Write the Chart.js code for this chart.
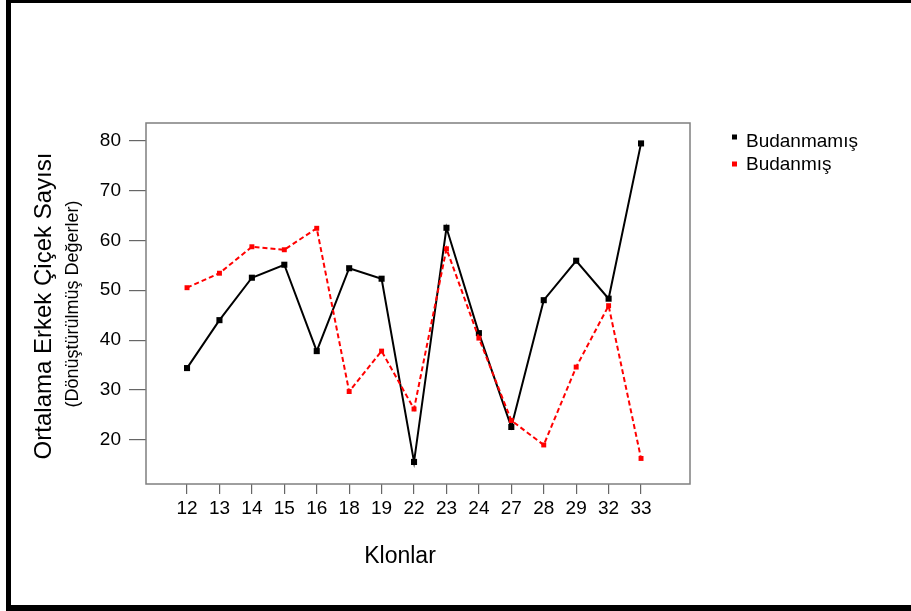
<!DOCTYPE html>
<html>
<head>
<meta charset="utf-8">
<script src="https://cdn.jsdelivr.net/npm/chart.js@4"></script>
<style>
  html, body { margin: 0; padding: 0; background: #fff; overflow: hidden; }
  #wrap { position: relative; width: 911px; height: 611px; }
  #frame {
    position: absolute; left: 6px; top: 0; width: 1000px; height: 602px;
    border-left: 5px solid #000; border-top: 3px solid #000; border-bottom: 6px solid #000;
    pointer-events: none;
  }
  canvas { position: absolute; left: 0; top: 0; }
</style>
</head>
<body>
<div id="wrap">
  <canvas id="chart" width="911" height="611"></canvas>
  <div id="frame"></div>
</div>
<script>
// Chart data
const clones = ['12', '13', '14', '15', '16', '18', '19', '22', '23', '24', '27', '28', '29', '32', '33'];
const budanmamis = [34.4, 44.0, 52.5, 55.1, 37.8, 54.4, 52.3, 15.6, 62.5, 41.4, 22.6, 48.0, 55.9, 48.3, 79.4];
const budanmis = [50.5, 53.4, 58.7, 58.1, 62.4, 29.7, 37.8, 26.2, 58.3, 40.4, 23.9, 19.0, 34.6, 46.9, 16.3];
const yTicks = [20, 30, 40, 50, 60, 70, 80];

const FONT = "'Liberation Sans', Arial, sans-serif";

function toPoints(values) {
  return values.map((v, i) => ({ x: i, y: v }));
}

// Plot frame, axis titles and legend
const decorations = {
  id: 'decorations',
  beforeDatasetsDraw(chart) {
    const { ctx, chartArea: a } = chart;
    ctx.save();
    ctx.strokeStyle = '#7f7f7f';
    ctx.lineWidth = 1.5;
    ctx.strokeRect(a.left, a.top, a.right - a.left, a.bottom - a.top);
    ctx.restore();
  },
  afterDraw(chart) {
    const { ctx } = chart;
    ctx.save();
    ctx.fillStyle = '#000';
    ctx.textAlign = 'center';
    ctx.textBaseline = 'middle';

    // y axis title
    ctx.save();
    ctx.translate(44, 306);
    ctx.rotate(-Math.PI / 2);
    ctx.font = '24px ' + FONT;
    ctx.fillText('Ortalama Erkek Çiçek Sayısı', 0, 0);
    ctx.restore();

    ctx.save();
    ctx.translate(73, 304);
    ctx.rotate(-Math.PI / 2);
    ctx.font = '18px ' + FONT;
    ctx.fillText('(Dönüştürülmüş Değerler)', 0, 0);
    ctx.restore();

    // x axis title
    ctx.textBaseline = 'alphabetic';
    ctx.font = '23px ' + FONT;
    ctx.fillText('Klonlar', 400, 563);

    // legend
    ctx.textAlign = 'left';
    ctx.font = '19px ' + FONT;
    const rows = [{ y: 147, my: 137 }, { y: 170, my: 164 }];
    chart.data.datasets.forEach((ds, i) => {
      ctx.fillStyle = ds.borderColor;
      ctx.fillRect(732, rows[i].my - 2.5, 5, 5);
      ctx.fillStyle = '#000';
      ctx.fillText(ds.label, 746, rows[i].y);
    });
    ctx.restore();
  }
};

new Chart(document.getElementById('chart'), {
  type: 'line',
  data: {
    datasets: [
      {
        label: 'Budanmamış',
        data: toPoints(budanmamis),
        borderColor: '#000000',
        backgroundColor: '#000000',
        borderWidth: 2,
        pointStyle: 'rect',
        pointRadius: 4.3,
        pointBorderWidth: 0,
        order: 1
      },
      {
        label: 'Budanmış',
        data: toPoints(budanmis),
        borderColor: '#ff0000',
        backgroundColor: '#ff0000',
        borderWidth: 2,
        borderDash: [5, 3],
        pointStyle: 'rect',
        pointRadius: 3.5,
        pointBorderWidth: 0,
        order: 0
      }
    ]
  },
  options: {
    responsive: false,
    animation: false,
    layout: {
      autoPadding: false,
      padding: { top: 123, right: 221, left: 0, bottom: 0 }
    },
    plugins: {
      legend: { display: false },
      tooltip: { enabled: false }
    },
    scales: {
      x: {
        type: 'linear',
        min: -1.265,
        max: 15.51,
        afterBuildTicks: (scale) => { scale.ticks = clones.map((c, i) => ({ value: i })); },
        afterFit: (scale) => { scale.height = 127; },
        grid: { drawOnChartArea: false, drawTicks: true, tickLength: 10, color: '#666', lineWidth: 1.2 },
        border: { display: false },
        ticks: {
          color: '#000',
          font: { family: FONT, size: 19 },
          padding: 3,
          maxRotation: 0,
          autoSkip: false,
          callback: (v) => clones[v]
        }
      },
      y: {
        min: 11.18,
        max: 83.49,
        afterBuildTicks: (scale) => { scale.ticks = yTicks.map(v => ({ value: v })); },
        afterFit: (scale) => { scale.width = 146; },
        grid: { drawOnChartArea: false, drawTicks: true, tickLength: 17, color: '#666', lineWidth: 1.2 },
        border: { display: false },
        ticks: {
          color: '#000',
          font: { family: FONT, size: 19 },
          padding: 8
        }
      }
    }
  },
  plugins: [decorations]
});
</script>
</body>
</html>
